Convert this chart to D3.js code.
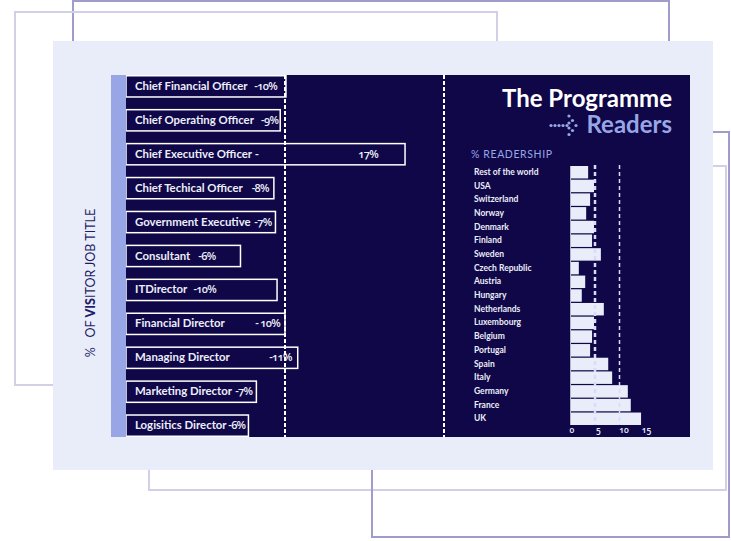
<!DOCTYPE html>
<html>
<head>
<meta charset="utf-8">
<script src="https://cdn.jsdelivr.net/npm/d3@7"></script>
<style>
  html, body { margin: 0; padding: 0; background: #fff; }
  svg { display: block; }
  text { font-family: "Lato", "Noto Sans", sans-serif; }
  .figures { font-family: "Open Sans", "Lato", sans-serif; font-variant-numeric: oldstyle-nums; font-feature-settings: "onum" 1; }
</style>
</head>
<body>
<div id="chart"></div>
<script>
// job titles (left panel)
const jobTitles = ["Chief Financial Officer", "Chief Operating Officer", "Chief Executive Officer -", "Chief Techical Officer", "Government Executive", "Consultant", "ITDirector", "Financial Director", "Managing Director", "Marketing Director", "Logisitics Director"]
const jobLabels = ["-10%", "-9%", "17%", "-8%", "-7%", "-6%", "-10%", "- 10%", "-11%", "-7%", "-6%"]
// box lengths as drawn, they do not follow the printed labels
const jobValues = [10.06, 9.7, 17.55, 9.3, 9.4, 7.2, 9.5, 10, 10.8, 8.2, 7.7]
const jobTicks = [10, 20]

// countries (right panel)
const countries = ["Rest of the world", "USA", "Switzerland", "Norway", "Denmark", "Finland", "Sweden", "Czech Republic", "Austria", "Hungary", "Netherlands", "Luxembourg", "Belgium", "Portugal", "Spain", "Italy", "Germany", "France", "UK"]
const readership = [3.6, 4.8, 4, 3.2, 4.8, 4.4, 6.2, 1.7, 3, 2.3, 6.8, 4.8, 4.4, 4, 7.7, 8.5, 11.7, 12.3, 14.4]
const readerTicks = [0, 5, 10, 15]
const readerGuides = [5, 10]

const colors = { navy: "#0f0747", panel: "#e9edfa", blue: "#98a6e6", frameDark: "#a09ccb", frameLight: "#d2cfe6", ink: "#eceef9" }

const svg = d3.select("#chart").append("svg")
  .attr("width", 731)
  .attr("height", 541)

// Frames behind the panel
const frames = [
  { x: 73, y: 1, w: 596, h: 300, stroke: colors.frameDark },
  { x: 149, y: 166, w: 577, h: 324, stroke: colors.frameLight },
  { x: 372, y: 132, w: 357, h: 405, stroke: colors.frameDark },
  { x: 15, y: 12, w: 482, h: 373, stroke: colors.frameLight }
]
svg.selectAll(".frame").data(frames).join("rect")
  .attr("class", "frame")
  .attr("x", d => d.x)
  .attr("y", d => d.y)
  .attr("width", d => d.w)
  .attr("height", d => d.h)
  .attr("fill", "none")
  .attr("stroke", d => d.stroke)
  .attr("stroke-width", 2)

// Panels
svg.append("rect").attr("x", 53).attr("y", 41).attr("width", 660).attr("height", 429).attr("fill", colors.panel)
svg.append("rect").attr("x", 126).attr("y", 75).attr("width", 564).attr("height", 362).attr("fill", colors.navy)

// Left chart
const jobX = d3.scaleLinear().domain([0, 20]).range([126, 444])
const jobY = d3.scaleBand().domain(jobTitles).range([75, 437]).paddingInner(0.33)

svg.append("g").selectAll("rect").data(jobTitles).join("rect")
  .attr("x", jobX(0))
  .attr("y", d => jobY(d) + 0.75)
  .attr("width", (d, i) => jobX(jobValues[i]) - jobX(0))
  .attr("height", jobY.bandwidth() - 1.5)
  .attr("fill", colors.navy)
  .attr("stroke", "#fff")
  .attr("stroke-width", 1.5)

svg.append("rect").attr("x", 111).attr("y", 75).attr("width", 15).attr("height", 362).attr("fill", colors.blue)

svg.append("g").selectAll("text").data(jobTitles).join("text")
  .attr("x", 135)
  .attr("y", d => jobY(d) + jobY.bandwidth() / 2 + 3.5)
  .attr("fill", colors.ink)
  .attr("font-size", 11.4)
  .attr("font-weight", 700)
  .text(d => d)

// printed percentages sit just inside the box end, except where the original left a gap
const labelInset = [9, 2, 27, 5, 4, 25, 61, 5, 6, 4, 3]
svg.append("g").selectAll("text").data(jobLabels).join("text")
  .attr("class", "figures")
  .attr("x", (d, i) => jobX(jobValues[i]) - labelInset[i])
  .attr("y", (d, i) => jobY(jobTitles[i]) + jobY.bandwidth() / 2 + 3.5)
  .attr("text-anchor", "end")
  .attr("fill", colors.ink)
  .attr("font-size", 11)
  .attr("font-weight", 600)
  .attr("letter-spacing", -0.7)
  .text(d => d)

svg.append("g").selectAll("line").data(jobTicks).join("line")
  .attr("x1", d => jobX(d))
  .attr("x2", d => jobX(d))
  .attr("y1", 75)
  .attr("y2", 437)
  .attr("stroke", "#fff")
  .attr("stroke-width", 2)
  .attr("stroke-dasharray", "4 2")

const yTitle = svg.append("text")
  .attr("transform", "translate(95,283) rotate(-90)")
  .attr("text-anchor", "middle")
  .attr("fill", "#1f1d66")
  .attr("font-size", 12.5)
yTitle.append("tspan").attr("xml:space", "preserve").text("%   OF ")
yTitle.append("tspan").attr("font-weight", 900).text("VIS")
yTitle.append("tspan").text("ITOR JOB TITLE")

// Title
svg.append("text")
  .attr("x", 672).attr("y", 107)
  .attr("text-anchor", "end")
  .attr("fill", "#fff")
  .attr("font-size", 24)
  .attr("font-weight", 700)
  .text("The Programme")
svg.append("text")
  .attr("x", 672).attr("y", 133)
  .attr("text-anchor", "end")
  .attr("fill", colors.blue)
  .attr("font-size", 24)
  .attr("font-weight", 700)
  .text("Readers")

// Arrow made of dots beside "Readers"
const arrowDots = [[551, 125.5], [555, 125.5], [559, 125.5], [563, 125.5], [567, 125.5], [569, 116], [572.5, 120.5], [569, 123], [576, 125.5], [569, 128], [572.5, 130.5], [569, 134.5]]
svg.append("g").selectAll("circle").data(arrowDots).join("circle")
  .attr("cx", d => d[0])
  .attr("cy", d => d[1])
  .attr("r", 1.6)
  .attr("fill", colors.blue)

svg.append("text")
  .attr("x", 471).attr("y", 158)
  .attr("fill", colors.blue)
  .attr("font-size", 10.5)
  .attr("letter-spacing", 0.6)
  .text("%  READERSHIP")

// Right chart
const readerX = d3.scaleLinear().domain([0, 15]).range([570.5, 644])
const readerY = d3.scaleBand().domain(countries).range([166, 425]).paddingInner(0.09)

svg.append("g").selectAll("rect").data(countries).join("rect")
  .attr("x", readerX(0))
  .attr("y", d => readerY(d))
  .attr("width", (d, i) => readerX(readership[i]) - readerX(0))
  .attr("height", readerY.bandwidth())
  .attr("fill", colors.panel)

svg.append("g").selectAll("text").data(countries).join("text")
  .attr("x", 474)
  .attr("y", d => readerY(d) + readerY.bandwidth() / 2 + 2.6)
  .attr("fill", colors.ink)
  .attr("font-size", 8.5)
  .attr("font-weight", 700)
  .text(d => d)

svg.append("g").selectAll("line").data(readerGuides).join("line")
  .attr("x1", d => readerX(d))
  .attr("x2", d => readerX(d))
  .attr("y1", 165)
  .attr("y2", 425)
  .attr("stroke", "#d8dcf8")
  .attr("stroke-width", d => d === 5 ? 2.5 : 1.5)
  .attr("stroke-dasharray", "4 3")

const readerAxis = svg.append("g")
  .attr("transform", "translate(0,425)")
  .call(d3.axisBottom(readerX).tickValues(readerTicks).tickSize(0).tickPadding(2))
readerAxis.select(".domain").remove()
// tick labels in the original sit a little right of their values
const tickNudge = [1, 3, 4, 2]
readerAxis.selectAll("text")
  .attr("class", "figures")
  .attr("dx", (d, i) => tickNudge[i])
  .attr("fill", colors.ink)
  .attr("font-size", 8.5)
  .attr("font-weight", 600)

svg.append("line")
  .attr("x1", readerX(0)).attr("x2", readerX(0))
  .attr("y1", 166).attr("y2", 425)
  .attr("stroke", "#b4b4cc")
  .attr("stroke-width", 1)
</script>
</body>
</html>
